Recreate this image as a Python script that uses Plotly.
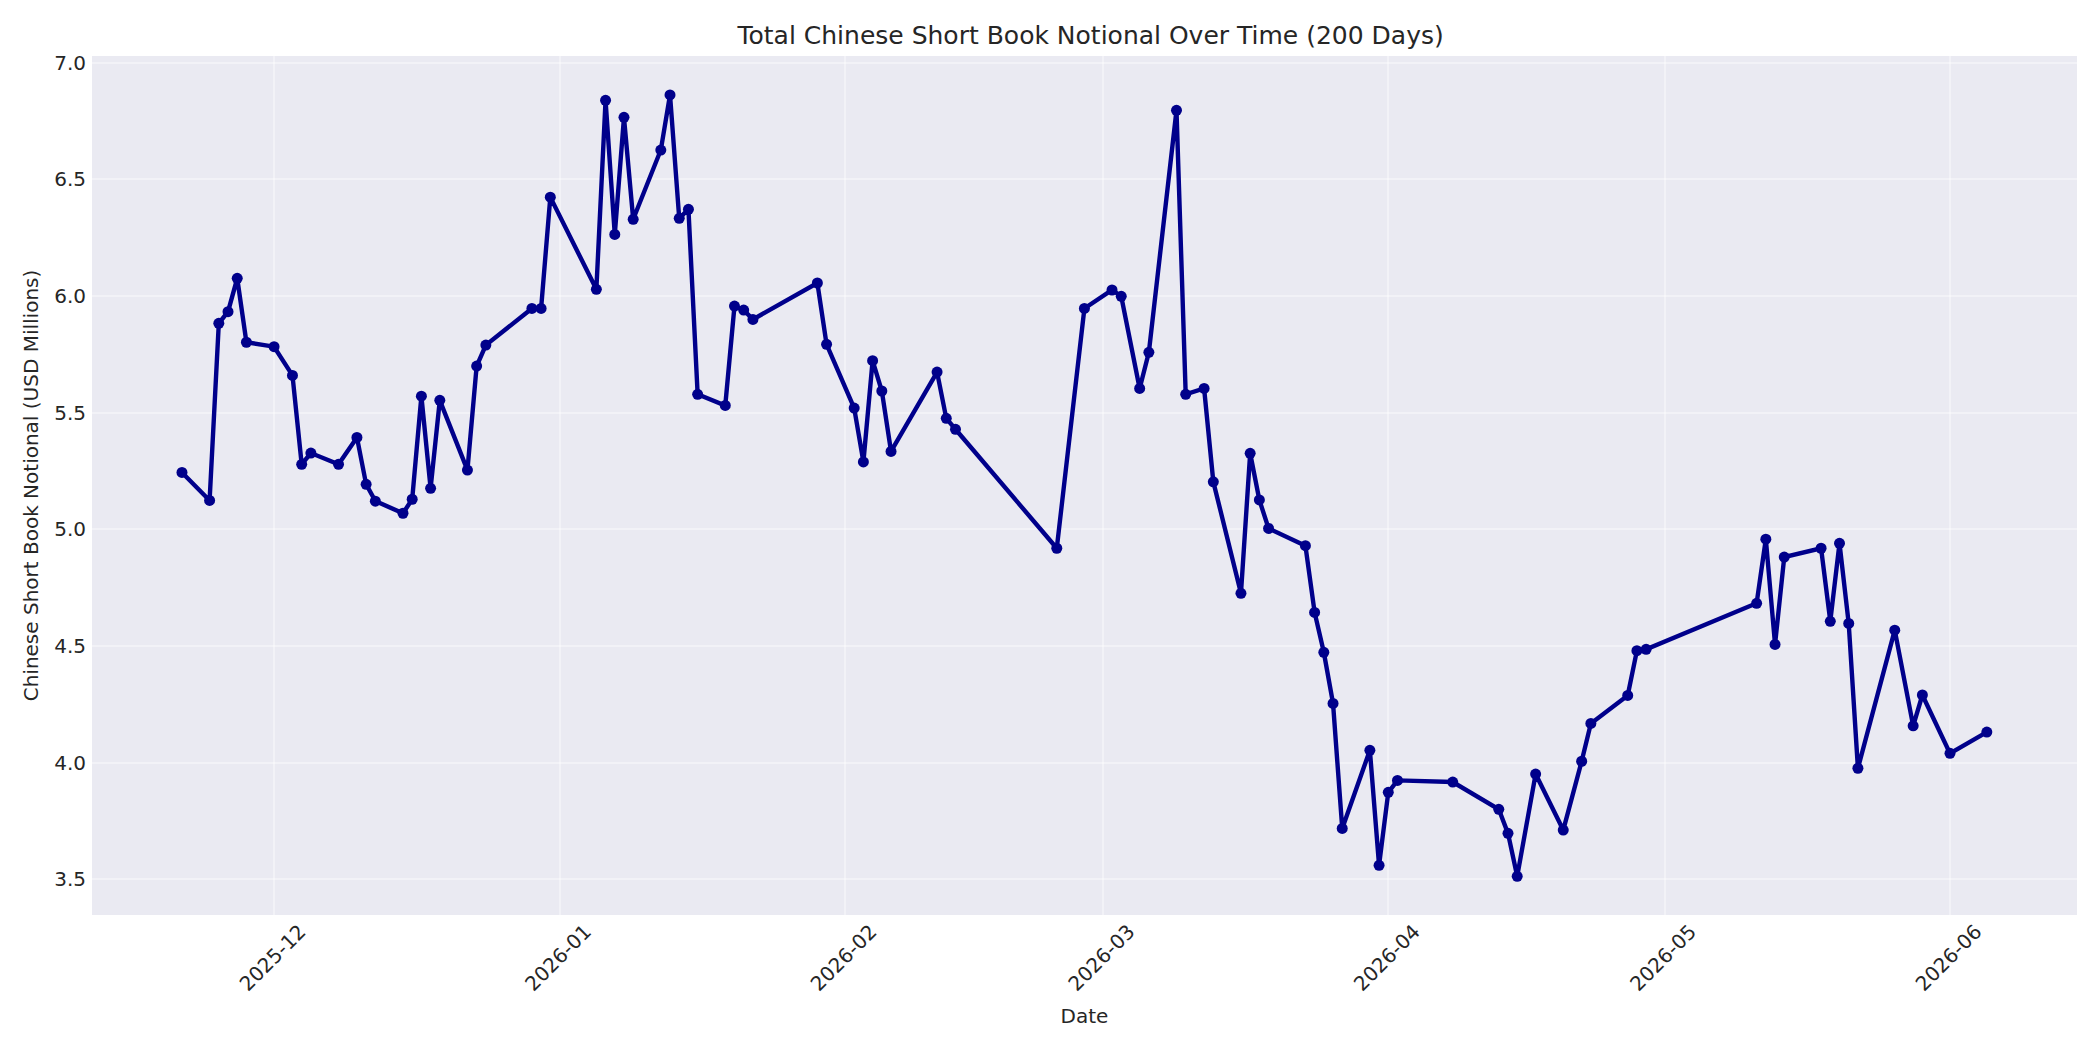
import plotly.graph_objects as go

dates = [
    "2025-11-21", "2025-11-24", "2025-11-25", "2025-11-26", "2025-11-27", "2025-11-28",
    "2025-12-01", "2025-12-03", "2025-12-04", "2025-12-05", "2025-12-08", "2025-12-10",
    "2025-12-11", "2025-12-12", "2025-12-15", "2025-12-16", "2025-12-17", "2025-12-18",
    "2025-12-19", "2025-12-22", "2025-12-23", "2025-12-24", "2025-12-29", "2025-12-30",
    "2025-12-31", "2026-01-05", "2026-01-06", "2026-01-07", "2026-01-08", "2026-01-09",
    "2026-01-12", "2026-01-13", "2026-01-14", "2026-01-15", "2026-01-16", "2026-01-19",
    "2026-01-20", "2026-01-21", "2026-01-22", "2026-01-29", "2026-01-30", "2026-02-02",
    "2026-02-03", "2026-02-04", "2026-02-05", "2026-02-06", "2026-02-11", "2026-02-12",
    "2026-02-13", "2026-02-24", "2026-02-27", "2026-03-02", "2026-03-03", "2026-03-05",
    "2026-03-06", "2026-03-09", "2026-03-10", "2026-03-12", "2026-03-13", "2026-03-16",
    "2026-03-17", "2026-03-18", "2026-03-19", "2026-03-23", "2026-03-24", "2026-03-25",
    "2026-03-26", "2026-03-27", "2026-03-30", "2026-03-31", "2026-04-01", "2026-04-02",
    "2026-04-08", "2026-04-13", "2026-04-14", "2026-04-15", "2026-04-17", "2026-04-20",
    "2026-04-22", "2026-04-23", "2026-04-27", "2026-04-28", "2026-04-29", "2026-05-11",
    "2026-05-12", "2026-05-13", "2026-05-14", "2026-05-18", "2026-05-19", "2026-05-20",
    "2026-05-21", "2026-05-22", "2026-05-26", "2026-05-28", "2026-05-29", "2026-06-01",
    "2026-06-05",
]

notional_musd = [
    5.244, 5.124, 5.883, 5.933, 6.076, 5.802,
    5.783, 5.660, 5.279, 5.327, 5.279, 5.394,
    5.193, 5.121, 5.069, 5.129, 5.571, 5.176,
    5.553, 5.254, 5.700, 5.790, 5.947, 5.947,
    6.424, 6.029, 6.839, 6.264, 6.766, 6.329,
    6.626, 6.862, 6.333, 6.372, 5.579, 5.531,
    5.957, 5.940, 5.900, 6.056, 5.793, 5.520,
    5.289, 5.723, 5.593, 5.334, 5.674, 5.476,
    5.429, 4.919, 5.947, 6.026, 5.999, 5.604,
    5.759, 6.796, 5.579, 5.604, 5.204, 4.726,
    5.326, 5.126, 5.004, 4.930, 4.644, 4.473,
    4.254, 3.718, 4.053, 3.560, 3.873, 3.924,
    3.917, 3.800, 3.697, 3.513, 3.951, 3.711,
    4.006, 4.168, 4.288, 4.480, 4.486, 4.683,
    4.958, 4.507, 4.881, 4.919, 4.606, 4.940,
    4.597, 3.976, 4.568, 4.158, 4.290, 4.040,
    4.131,
]

title_text = "Total Chinese Short Book Notional Over Time (200 Days)"
x_label = "Date"
y_label = "Chinese Short Book Notional (USD Millions)"

FONT = "DejaVu Sans, Liberation Sans, sans-serif"
TXT = "#262626"
GRID = "rgba(255,255,255,0.38)"

fig = go.Figure()
fig.add_trace(go.Scatter(
    x=dates, y=notional_musd, mode="lines+markers",
    line=dict(color="#00008B", width=4.4),
    marker=dict(color="#00008B", size=11),
    showlegend=False,
))

# page body has an 8px margin, so the figure is sized to fill the rest of the window
fig.update_layout(
    width=2092, height=1042,
    margin=dict(l=84, r=23, t=48, b=135),
    paper_bgcolor="white",
    plot_bgcolor="#EAEAF2",
    font=dict(family=FONT, color=TXT, size=20),
    title=dict(text=title_text, x=0.5175, xanchor="center", y=0.974, yanchor="middle",
               font=dict(size=25, color=TXT, family=FONT)),
)

fig.update_xaxes(
    range=["2025-11-11 05:30", "2026-06-14 19:00"],
    type="date", tick0="2025-12-01", dtick="M1", tickformat="%Y-%m",
    tickangle=-45, tickfont=dict(size=20, color=TXT), ticklabelshift=26,
    showgrid=True, gridcolor=GRID, gridwidth=1.5,
    zeroline=False, showline=False, ticks="",
    title=dict(text=x_label, font=dict(size=20, color=TXT), standoff=14),
)
fig.update_yaxes(
    range=[3.347, 7.029],
    tick0=3.5, dtick=0.5, tickformat=".1f",
    tickfont=dict(size=20, color=TXT),
    showgrid=True, gridcolor=GRID, gridwidth=1.5,
    zeroline=False, showline=False, ticks="", ticklabelstandoff=5,
    title=dict(text=y_label, font=dict(size=20, color=TXT), standoff=10),
)

fig.write_html("out.html")
